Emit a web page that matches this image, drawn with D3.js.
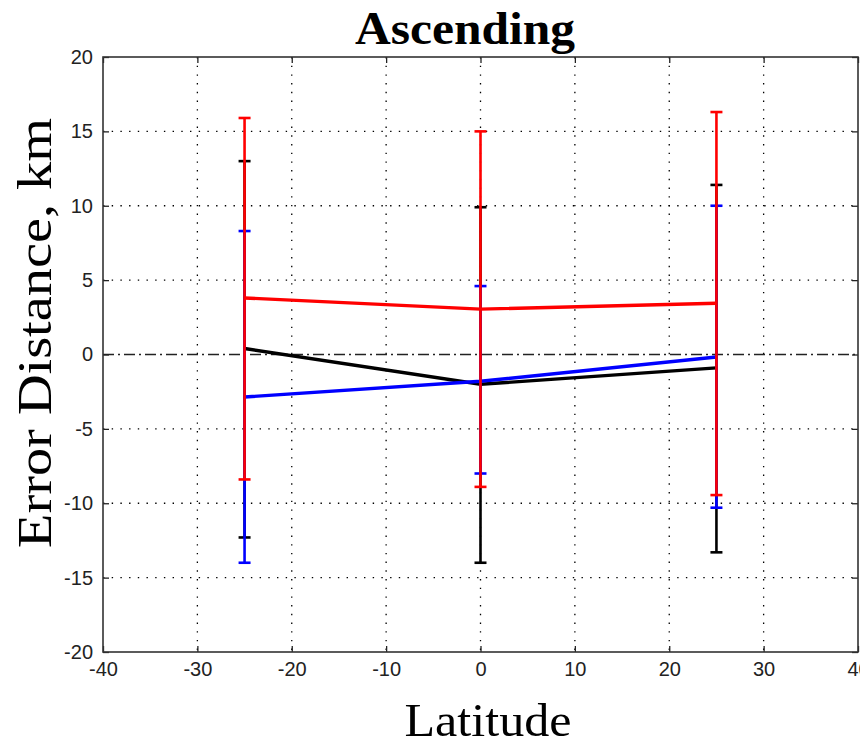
<!DOCTYPE html>
<html><head><meta charset="utf-8">
<script src="https://cdn.jsdelivr.net/npm/d3@7"></script>
<style>body{margin:0;background:#fff}svg{display:block}</style>
</head><body><svg id="c" width="860" height="745"></svg>
<script>
const latitudes = [-25, 0, 25];
const blackMean = [0.4, -2.0, -0.9];
const blackUpper = [13.0, 9.9, 11.4];
const blackLower = [-12.3, -14.0, -13.3];
const blueMean = [-2.86, -1.8, -0.17];
const blueUpper = [8.3, 4.6, 10.0];
const blueLower = [-14.0, -8.0, -10.3];
const redMean = [3.8, 3.05, 3.45];
const redUpper = [15.9, 15.0, 16.3];
const redLower = [-8.4, -8.9, -9.45];
const xTicks = [-40, -30, -20, -10, 0, 10, 20, 30, 40];
const yTicks = [-20, -15, -10, -5, 0, 5, 10, 15, 20];

const series = [
  {color: "#000000", mean: blackMean, upper: blackUpper, lower: blackLower},
  {color: "#0000ff", mean: blueMean, upper: blueUpper, lower: blueLower},
  {color: "#ff0000", mean: redMean, upper: redUpper, lower: redLower}
];

const L = 103, R = 858, T = 57, B = 652;
const svg = d3.select("#c");
const x = d3.scaleLinear().domain([-40, 40]).range([L, R]);
const y = d3.scaleLinear().domain([-20, 20]).range([B, T]);
const fmt = d => String(d);

// grid
const grid = svg.append("g").attr("stroke", "#000").attr("stroke-width", 1.3).attr("stroke-dasharray", "1.4,7.3");
grid.selectAll(".gx").data(xTicks.slice(1, -1)).join("line")
  .attr("x1", d => x(d)).attr("x2", d => x(d)).attr("y1", T).attr("y2", B);
grid.selectAll(".gy").data(yTicks.slice(1, -1).filter(d => d !== 0)).join("line")
  .attr("x1", L).attr("x2", R).attr("y1", d => y(d)).attr("y2", d => y(d));

// zero dash-dot line
svg.append("line").attr("x1", L).attr("x2", R).attr("y1", y(0)).attr("y2", y(0))
  .attr("stroke", "#222").attr("stroke-width", 1.5).attr("stroke-dasharray", "11,4,2,4");

// axes with inside ticks
const tickFont = "'Liberation Sans', Arial, sans-serif";
const ax = svg.append("g").attr("transform", `translate(0,${B})`)
  .call(d3.axisBottom(x).tickValues(xTicks).tickSize(-6).tickPadding(12).tickFormat(fmt));
const ay = svg.append("g").attr("transform", `translate(${L},0)`)
  .call(d3.axisLeft(y).tickValues(yTicks).tickSize(-6).tickPadding(10).tickFormat(fmt));
const axT = svg.append("g").attr("transform", `translate(0,${T})`)
  .call(d3.axisTop(x).tickValues(xTicks).tickSize(-6).tickFormat(""));
const ayR = svg.append("g").attr("transform", `translate(${R},0)`)
  .call(d3.axisRight(y).tickValues(yTicks).tickSize(-6).tickFormat(""));
[ax, ay, axT, ayR].forEach(g => {
  g.select(".domain").remove();
  g.selectAll(".tick line").attr("stroke", "#222").attr("stroke-width", 1.3);
  g.selectAll("text").attr("font-family", tickFont).attr("font-size", 20).attr("fill", "#222");
});
ax.selectAll("text").attr("dy", "0.6em");
svg.append("rect").attr("x", L).attr("y", T).attr("width", R - L).attr("height", B - T)
  .attr("fill", "none").attr("stroke", "#333").attr("stroke-width", 1.6);

// series
const line = d3.line().x((d, i) => x(latitudes[i])).y(d => y(d));
series.forEach(s => {
  const g = svg.append("g").attr("stroke", s.color).attr("fill", "none");
  g.append("path").attr("d", line(s.mean)).attr("stroke-width", 3.4);
  latitudes.forEach((lat, i) => {
    g.append("line").attr("x1", x(lat)).attr("x2", x(lat)).attr("y1", y(s.upper[i])).attr("y2", y(s.lower[i])).attr("stroke-width", 2.6);
    [s.upper[i], s.lower[i]].forEach(v => {
      g.append("line").attr("x1", x(lat) - 6).attr("x2", x(lat) + 6).attr("y1", y(v)).attr("y2", y(v)).attr("stroke-width", 2.6);
    });
  });
});

// titles
const serif = "'Liberation Serif', 'Times New Roman', serif";
svg.append("text").attr("x", 465).attr("y", 44).attr("text-anchor", "middle")
  .attr("font-family", serif).attr("font-weight", "bold").attr("font-size", 46)
  .attr("textLength", 220).attr("lengthAdjust", "spacingAndGlyphs").text("Ascending");
svg.append("text").attr("x", 488).attr("y", 736).attr("text-anchor", "middle")
  .attr("font-family", serif).attr("font-weight", "normal").attr("font-size", 47)
  .attr("textLength", 167).attr("lengthAdjust", "spacingAndGlyphs").text("Latitude");
svg.append("text").attr("transform", "translate(51,333) rotate(-90)").attr("text-anchor", "middle")
  .attr("font-family", serif).attr("font-weight", "normal").attr("font-size", 49)
  .attr("textLength", 430).attr("lengthAdjust", "spacingAndGlyphs").text("Error Distance, km");
</script></body></html>
